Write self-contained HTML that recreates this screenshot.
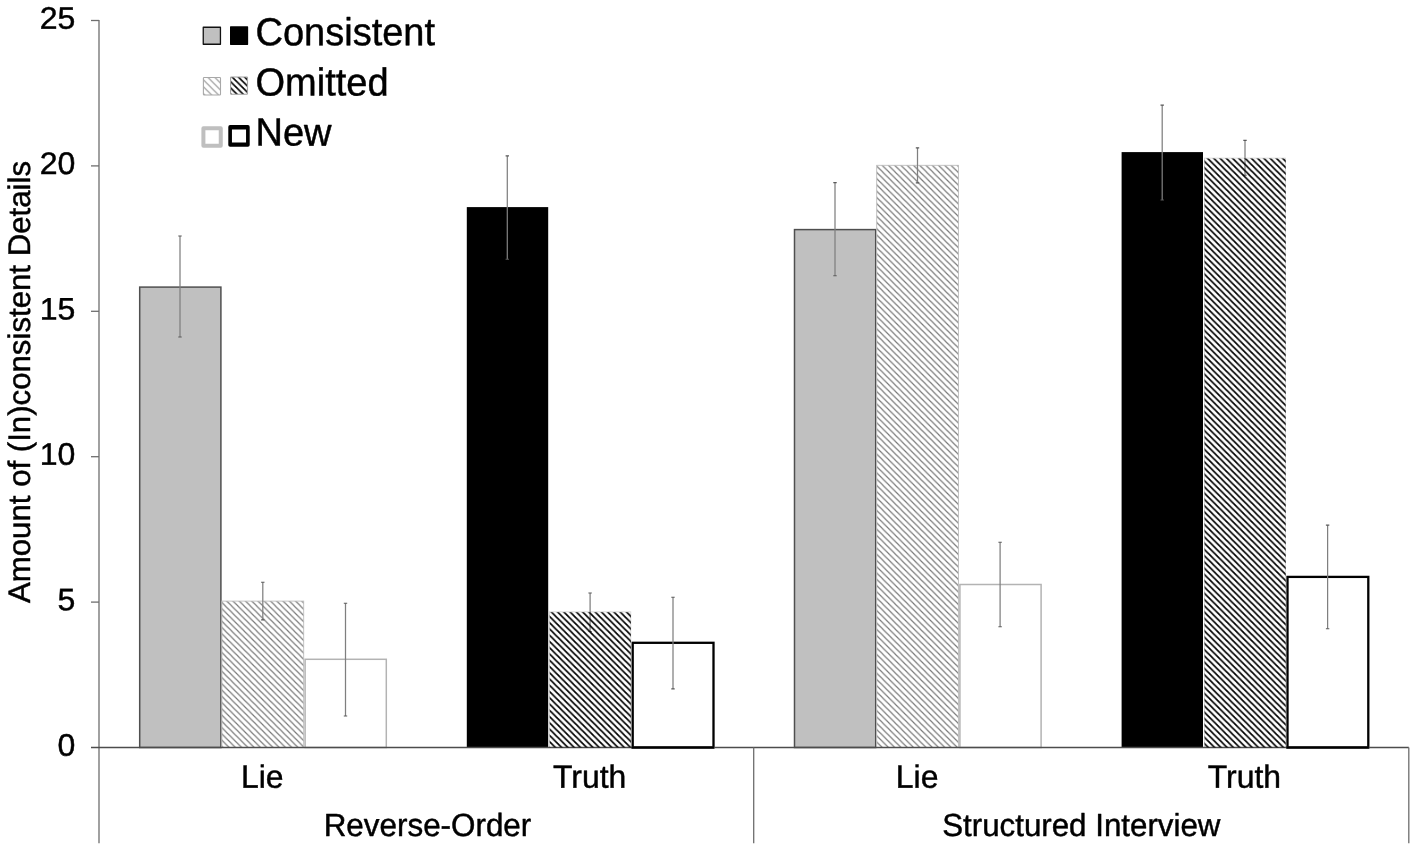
<!DOCTYPE html>
<html><head><meta charset="utf-8"><title>chart</title>
<style>
html,body{margin:0;padding:0;background:#fff;}
body{width:1418px;height:852px;overflow:hidden;font-family:"Liberation Sans",sans-serif;}
svg{display:block;will-change:transform;}
text{font-family:"Liberation Sans",sans-serif;fill:#000;text-rendering:geometricPrecision;stroke:#000;stroke-width:0.45px;stroke-linejoin:round;}
</style></head><body>
<svg width="1418" height="852" viewBox="0 0 1418 852">
<defs>
<pattern id="lh0" width="6.26" height="6.26" patternUnits="userSpaceOnUse" x="0" y="5.00"><path d="M-2,-2 L8.26,8.26 M-2,4.26 L2,8.26 M4.26,-2 L8.26,2" stroke="#767676" stroke-width="1.15" fill="none"/></pattern>
<pattern id="lh2g" width="6.26" height="6.26" patternUnits="userSpaceOnUse" x="0" y="3.00"><path d="M-2,-2 L8.26,8.26 M-2,4.26 L2,8.26 M4.26,-2 L8.26,2" stroke="#767676" stroke-width="1.15" fill="none"/></pattern>
<pattern id="dh1" width="6.26" height="6.26" patternUnits="userSpaceOnUse" x="0" y="4.30"><path d="M-2,-2 L8.26,8.26 M-2,4.26 L2,8.26 M4.26,-2 L8.26,2" stroke="#000" stroke-width="1.7" fill="none"/></pattern>
<pattern id="dh3" width="6.26" height="6.26" patternUnits="userSpaceOnUse" x="0" y="2.40"><path d="M-2,-2 L8.26,8.26 M-2,4.26 L2,8.26 M4.26,-2 L8.26,2" stroke="#000" stroke-width="1.7" fill="none"/></pattern>
<pattern id="lhL" width="6.92" height="6.92" patternUnits="userSpaceOnUse" x="0" y="0.98"><path d="M-2,-2 L8.92,8.92 M-2,4.92 L2,8.92 M4.92,-2 L8.92,2" stroke="#939393" stroke-width="1.15" fill="none"/></pattern>
<pattern id="dhL" width="6.21" height="6.21" patternUnits="userSpaceOnUse" x="0" y="0.10"><path d="M-2,-2 L8.21,8.21 M-2,4.21 L2,8.21 M4.21,-2 L8.21,2" stroke="#000" stroke-width="1.65" fill="none"/></pattern>
</defs>
<rect width="1418" height="852" fill="#fff"/>

<rect x="139.70" y="287.10" width="81.20" height="460.40" fill="#c0c0c0" stroke="#4f4f4f" stroke-width="1.5"/>
<rect x="221.90" y="601.10" width="81.80" height="146.40" fill="#fff"/>
<rect x="221.90" y="601.10" width="81.80" height="146.40" fill="url(#lh0)" stroke="#bababa" stroke-width="0.85"/>
<rect x="305.10" y="659.30" width="81.20" height="88.20" fill="#fff" stroke="#b3b3b3" stroke-width="1.5"/>
<rect x="466.80" y="207.10" width="81.40" height="540.40" fill="#000"/>
<rect x="549.60" y="611.80" width="81.20" height="135.70" fill="#fff" stroke="#d4d4d4" stroke-width="0.8"/>
<rect x="632.70" y="642.80" width="80.80" height="104.70" fill="#fff" stroke="#000" stroke-width="2.3"/>
<rect x="794.50" y="229.60" width="81.20" height="517.90" fill="#c0c0c0" stroke="#4f4f4f" stroke-width="1.5"/>
<rect x="876.70" y="165.30" width="81.80" height="582.20" fill="#fff"/>
<rect x="876.70" y="165.30" width="81.80" height="582.20" fill="url(#lh2g)" stroke="#bababa" stroke-width="0.85"/>
<rect x="959.90" y="584.50" width="81.20" height="163.00" fill="#fff" stroke="#b3b3b3" stroke-width="1.5"/>
<rect x="1121.60" y="152.10" width="81.40" height="595.40" fill="#000"/>
<rect x="1204.40" y="158.10" width="81.20" height="589.40" fill="#fff" stroke="#d4d4d4" stroke-width="0.8"/>
<rect x="1287.50" y="576.90" width="80.80" height="170.60" fill="#fff" stroke="#000" stroke-width="2.3"/>
<path d="M99.0,20 V843.2" stroke="#6e6e6e" stroke-width="1.3" fill="none"/>
<path d="M91,747.5 H1408.8" stroke="#4d4d4d" stroke-width="1.3" fill="none"/>
<path d="M753.7,747.5 V843.2 M1408.8,747.5 V843.2" stroke="#6e6e6e" stroke-width="1.3" fill="none"/>
<path d="M91,602.10 H99.0" stroke="#6e6e6e" stroke-width="1.3" fill="none"/>
<path d="M91,456.70 H99.0" stroke="#6e6e6e" stroke-width="1.3" fill="none"/>
<path d="M91,311.30 H99.0" stroke="#6e6e6e" stroke-width="1.3" fill="none"/>
<path d="M91,165.90 H99.0" stroke="#6e6e6e" stroke-width="1.3" fill="none"/>
<path d="M91,20.50 H99.0" stroke="#6e6e6e" stroke-width="1.3" fill="none"/>
<path d="M180.00,236.00 V337.00" stroke="#7f7f7f" stroke-width="1.25" fill="none"/><path d="M178.30,236.00 h3.4 M178.30,337.00 h3.4" stroke="#5a5a5a" stroke-width="1.1" fill="none"/>
<path d="M262.80,582.30 V619.90" stroke="#7f7f7f" stroke-width="1.25" fill="none"/><path d="M261.10,582.30 h3.4 M261.10,619.90 h3.4" stroke="#5a5a5a" stroke-width="1.1" fill="none"/>
<path d="M345.50,603.20 V716.00" stroke="#7f7f7f" stroke-width="1.25" fill="none"/><path d="M343.80,603.20 h3.4 M343.80,716.00 h3.4" stroke="#5a5a5a" stroke-width="1.1" fill="none"/>
<path d="M507.30,155.90 V259.20" stroke="#7f7f7f" stroke-width="1.25" fill="none"/><path d="M505.60,155.90 h3.4 M505.60,259.20 h3.4" stroke="#5a5a5a" stroke-width="1.1" fill="none"/>
<path d="M590.10,593.00 V631.50" stroke="#7f7f7f" stroke-width="1.25" fill="none"/><path d="M588.40,593.00 h3.4 M588.40,631.50 h3.4" stroke="#5a5a5a" stroke-width="1.1" fill="none"/>
<path d="M673.00,597.20 V688.90" stroke="#7f7f7f" stroke-width="1.25" fill="none"/><path d="M671.30,597.20 h3.4 M671.30,688.90 h3.4" stroke="#5a5a5a" stroke-width="1.1" fill="none"/>
<path d="M835.00,182.60 V275.70" stroke="#7f7f7f" stroke-width="1.25" fill="none"/><path d="M833.30,182.60 h3.4 M833.30,275.70 h3.4" stroke="#5a5a5a" stroke-width="1.1" fill="none"/>
<path d="M917.50,147.90 V182.90" stroke="#7f7f7f" stroke-width="1.25" fill="none"/><path d="M915.80,147.90 h3.4 M915.80,182.90 h3.4" stroke="#5a5a5a" stroke-width="1.1" fill="none"/>
<path d="M1000.10,542.30 V626.80" stroke="#7f7f7f" stroke-width="1.25" fill="none"/><path d="M998.40,542.30 h3.4 M998.40,626.80 h3.4" stroke="#5a5a5a" stroke-width="1.1" fill="none"/>
<path d="M1162.20,105.10 V200.00" stroke="#7f7f7f" stroke-width="1.25" fill="none"/><path d="M1160.50,105.10 h3.4 M1160.50,200.00 h3.4" stroke="#5a5a5a" stroke-width="1.1" fill="none"/>
<path d="M1245.00,140.40 V175.30" stroke="#7f7f7f" stroke-width="1.25" fill="none"/><path d="M1243.30,140.40 h3.4 M1243.30,175.30 h3.4" stroke="#5a5a5a" stroke-width="1.1" fill="none"/>
<path d="M1327.60,525.10 V628.70" stroke="#7f7f7f" stroke-width="1.25" fill="none"/><path d="M1325.90,525.10 h3.4 M1325.90,628.70 h3.4" stroke="#5a5a5a" stroke-width="1.1" fill="none"/>
<rect x="549.70" y="612.20" width="81.20" height="135.30" fill="url(#dh1)"/>
<path d="M631.55,747.5 H714.05" stroke="#000" stroke-width="2.2" fill="none"/>
<rect x="1204.50" y="158.50" width="81.20" height="589.00" fill="url(#dh3)"/>
<path d="M1286.35,747.5 H1368.85" stroke="#000" stroke-width="2.2" fill="none"/>
<text transform="translate(75.4,755.65) rotate(0.03) scale(1.03,1.0)" font-size="31.1" text-anchor="end">0</text>
<text transform="translate(75.4,610.25) rotate(0.03) scale(1.03,1.0)" font-size="31.1" text-anchor="end">5</text>
<text transform="translate(75.4,464.85) rotate(0.03) scale(1.03,1.0)" font-size="31.1" text-anchor="end">10</text>
<text transform="translate(75.4,319.45) rotate(0.03) scale(1.03,1.0)" font-size="31.1" text-anchor="end">15</text>
<text transform="translate(75.4,174.05) rotate(0.03) scale(1.03,1.0)" font-size="31.1" text-anchor="end">20</text>
<text transform="translate(75.4,28.65) rotate(0.03) scale(1.03,1.0)" font-size="31.1" text-anchor="end">25</text>
<text transform="translate(30.4,382) rotate(-90)" font-size="31.2" text-anchor="middle">Amount of (In)consistent Details</text>
<text transform="translate(262.3,787.75) rotate(0.03) scale(1.01,1.02)" font-size="31.6" text-anchor="middle">Lie</text>
<text transform="translate(589.6,787.75) rotate(0.03) scale(1.01,1.02)" font-size="31.6" text-anchor="middle">Truth</text>
<text transform="translate(917.15,787.75) rotate(0.03) scale(1.01,1.02)" font-size="31.6" text-anchor="middle">Lie</text>
<text transform="translate(1244.4,787.75) rotate(0.03) scale(1.01,1.02)" font-size="31.6" text-anchor="middle">Truth</text>
<text transform="translate(427.5,836.0) rotate(0.03) scale(1.0,1.02)" font-size="31.4" text-anchor="middle">Reverse-Order</text>
<text transform="translate(1081.3,836.0) rotate(0.03) scale(1.0,1.02)" font-size="31.3" text-anchor="middle">Structured Interview</text>
<rect x="203.25" y="27.25" width="17.2" height="17.0" fill="#c0c0c0" stroke="#111" stroke-width="1.3" stroke-linejoin="round"/>
<rect x="230" y="26.3" width="18.15" height="18.6" fill="#000" rx="0.6"/>
<rect x="203.4" y="77.55" width="17.1" height="17.5" rx="0.8" fill="url(#lhL)" stroke="#a8a8a8" stroke-width="1.1"/>
<rect x="230.55" y="76.95" width="16.95" height="17.35" rx="0.8" fill="url(#dhL)" stroke="#a2a2a2" stroke-width="1.1"/>
<rect x="203.4" y="128.15" width="17.35" height="17.5" fill="#fff" stroke="#bfbfbf" stroke-width="4.0" stroke-linejoin="round"/>
<path fill-rule="evenodd" fill="#000" d="M230.1,125.1 H247.9 A1.8,1.8 0 0 1 249.7,126.9 V145.05 A1.8,1.8 0 0 1 247.9,146.85 H230.1 A1.8,1.8 0 0 1 228.3,145.05 V126.9 A1.8,1.8 0 0 1 230.1,125.1 Z M231.95,129.6 V142.6 H246.05 V129.6 Z"/>
<text transform="translate(255.5,45.2) rotate(0.03) scale(1.0,1.03)" font-size="38" text-anchor="start">Consistent</text>
<text transform="translate(255.5,95.5) rotate(0.03) scale(1.0,1.03)" font-size="38" text-anchor="start">Omitted</text>
<text transform="translate(255.5,145.6) rotate(0.03) scale(1.0,1.03)" font-size="38" text-anchor="start">New</text>
</svg></body></html>
